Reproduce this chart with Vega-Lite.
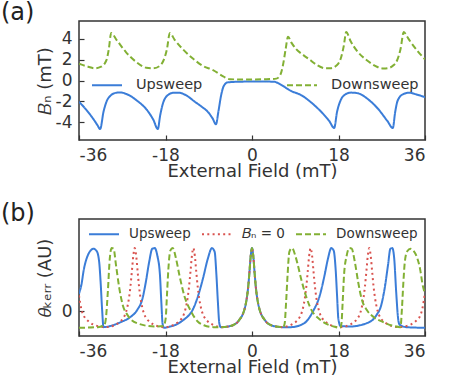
{
"$schema": "https://vega.github.io/schema/vega-lite/v6.json",
"padding": {"left": 0, "top": 0, "right": 5, "bottom": 0},
"config": {
 "font": "DejaVu Sans",
 "view": {"stroke": "#333333", "strokeWidth": 1.5},
 "axis": {"grid": false, "domain": false, "tickSize": -5, "tickColor": "#333333", "tickWidth": 1.2, "labelFont": "DejaVu Sans", "labelFontSize": 17, "labelColor": "#333333", "titleFont": "DejaVu Sans", "titleFontSize": 18, "titleFontWeight": "normal", "titleColor": "#333333", "labelPadding": 12},
 "legend": {"labelFont": "DejaVu Sans", "labelColor": "#333333", "padding": 0, "symbolStrokeWidth": 2, "symbolSize": 900, "symbolType": "stroke", "title": null},
 "title": {"font": "DejaVu Sans", "fontWeight": "normal", "color": "#222222", "fontSize": 24, "anchor": "start", "frame": "group", "baseline": "alphabetic"}
},
"spacing": 20,
"datasets": {
"a": [
{"x":-36,"y":-2.03,"s":"Upsweep"},{"x":-34.5,"y":-2.8,"s":"Upsweep"},{"x":-33,"y":-3.7,"s":"Upsweep"},{"x":-32.2,"y":-4.25,"s":"Upsweep"},{"x":-31.6,"y":-4.65,"s":"Upsweep"},{"x":-30.9,"y":-3.0,"s":"Upsweep"},{"x":-30.2,"y":-1.94,"s":"Upsweep"},{"x":-29.5,"y":-1.48,"s":"Upsweep"},{"x":-28.2,"y":-1.17,"s":"Upsweep"},{"x":-27.4,"y":-1.14,"s":"Upsweep"},{"x":-26.0,"y":-1.32,"s":"Upsweep"},{"x":-23.9,"y":-1.94,"s":"Upsweep"},{"x":-21.8,"y":-2.86,"s":"Upsweep"},{"x":-20.5,"y":-3.79,"s":"Upsweep"},{"x":-19.6,"y":-4.65,"s":"Upsweep"},{"x":-19.1,"y":-3.32,"s":"Upsweep"},{"x":-18.5,"y":-2.15,"s":"Upsweep"},{"x":-17.7,"y":-1.48,"s":"Upsweep"},{"x":-16.3,"y":-1.17,"s":"Upsweep"},{"x":-15.3,"y":-1.17,"s":"Upsweep"},{"x":-13.5,"y":-1.48,"s":"Upsweep"},{"x":-12.0,"y":-2.0,"s":"Upsweep"},{"x":-10.5,"y":-2.5,"s":"Upsweep"},{"x":-9.2,"y":-3.0,"s":"Upsweep"},{"x":-8.2,"y":-3.63,"s":"Upsweep"},{"x":-7.5,"y":-4.2,"s":"Upsweep"},{"x":-7.0,"y":-3.0,"s":"Upsweep"},{"x":-6.45,"y":-1.48,"s":"Upsweep"},{"x":-5.9,"y":-0.55,"s":"Upsweep"},{"x":-5.06,"y":-0.18,"s":"Upsweep"},{"x":-3.0,"y":-0.12,"s":"Upsweep"},{"x":0,"y":-0.1,"s":"Upsweep"},{"x":2.3,"y":-0.1,"s":"Upsweep"},{"x":4.6,"y":-0.12,"s":"Upsweep"},{"x":6.0,"y":-0.4,"s":"Upsweep"},{"x":8.1,"y":-1.0,"s":"Upsweep"},{"x":10.2,"y":-1.39,"s":"Upsweep"},{"x":12.3,"y":-2.1,"s":"Upsweep"},{"x":14.4,"y":-3.0,"s":"Upsweep"},{"x":16.1,"y":-3.9,"s":"Upsweep"},{"x":17.1,"y":-4.55,"s":"Upsweep"},{"x":17.7,"y":-3.0,"s":"Upsweep"},{"x":18.4,"y":-1.94,"s":"Upsweep"},{"x":19.2,"y":-1.4,"s":"Upsweep"},{"x":20.6,"y":-1.16,"s":"Upsweep"},{"x":22.0,"y":-1.22,"s":"Upsweep"},{"x":24.1,"y":-1.78,"s":"Upsweep"},{"x":26.2,"y":-2.7,"s":"Upsweep"},{"x":28.2,"y":-3.9,"s":"Upsweep"},{"x":29.3,"y":-4.55,"s":"Upsweep"},{"x":29.8,"y":-3.0,"s":"Upsweep"},{"x":30.3,"y":-1.94,"s":"Upsweep"},{"x":31.4,"y":-1.32,"s":"Upsweep"},{"x":32.7,"y":-1.17,"s":"Upsweep"},{"x":34.1,"y":-1.32,"s":"Upsweep"},{"x":36,"y":-1.6,"s":"Upsweep"},
{"x":36,"y":2.03,"s":"Downsweep"},{"x":34.5,"y":2.8,"s":"Downsweep"},{"x":33,"y":3.7,"s":"Downsweep"},{"x":32.2,"y":4.25,"s":"Downsweep"},{"x":31.6,"y":4.65,"s":"Downsweep"},{"x":30.9,"y":3.0,"s":"Downsweep"},{"x":30.2,"y":1.94,"s":"Downsweep"},{"x":29.5,"y":1.48,"s":"Downsweep"},{"x":28.2,"y":1.17,"s":"Downsweep"},{"x":27.4,"y":1.14,"s":"Downsweep"},{"x":26.0,"y":1.32,"s":"Downsweep"},{"x":23.9,"y":1.94,"s":"Downsweep"},{"x":21.8,"y":2.86,"s":"Downsweep"},{"x":20.5,"y":3.79,"s":"Downsweep"},{"x":19.6,"y":4.65,"s":"Downsweep"},{"x":19.1,"y":3.32,"s":"Downsweep"},{"x":18.5,"y":2.15,"s":"Downsweep"},{"x":17.7,"y":1.48,"s":"Downsweep"},{"x":16.3,"y":1.17,"s":"Downsweep"},{"x":15.3,"y":1.17,"s":"Downsweep"},{"x":13.5,"y":1.48,"s":"Downsweep"},{"x":12.0,"y":2.0,"s":"Downsweep"},{"x":10.5,"y":2.5,"s":"Downsweep"},{"x":9.2,"y":3.0,"s":"Downsweep"},{"x":8.2,"y":3.63,"s":"Downsweep"},{"x":7.5,"y":4.2,"s":"Downsweep"},{"x":7.0,"y":3.0,"s":"Downsweep"},{"x":6.45,"y":1.48,"s":"Downsweep"},{"x":5.9,"y":0.55,"s":"Downsweep"},{"x":5.06,"y":0.18,"s":"Downsweep"},{"x":3.0,"y":0.12,"s":"Downsweep"},{"x":0,"y":0.1,"s":"Downsweep"},{"x":-2.3,"y":0.1,"s":"Downsweep"},{"x":-4.6,"y":0.12,"s":"Downsweep"},{"x":-6.0,"y":0.4,"s":"Downsweep"},{"x":-8.1,"y":1.0,"s":"Downsweep"},{"x":-10.2,"y":1.39,"s":"Downsweep"},{"x":-12.3,"y":2.1,"s":"Downsweep"},{"x":-14.4,"y":3.0,"s":"Downsweep"},{"x":-16.1,"y":3.9,"s":"Downsweep"},{"x":-17.1,"y":4.55,"s":"Downsweep"},{"x":-17.7,"y":3.0,"s":"Downsweep"},{"x":-18.4,"y":1.94,"s":"Downsweep"},{"x":-19.2,"y":1.4,"s":"Downsweep"},{"x":-20.6,"y":1.16,"s":"Downsweep"},{"x":-22.0,"y":1.22,"s":"Downsweep"},{"x":-24.1,"y":1.78,"s":"Downsweep"},{"x":-26.2,"y":2.7,"s":"Downsweep"},{"x":-28.2,"y":3.9,"s":"Downsweep"},{"x":-29.3,"y":4.55,"s":"Downsweep"},{"x":-29.8,"y":3.0,"s":"Downsweep"},{"x":-30.3,"y":1.94,"s":"Downsweep"},{"x":-31.4,"y":1.32,"s":"Downsweep"},{"x":-32.7,"y":1.17,"s":"Downsweep"},{"x":-34.1,"y":1.32,"s":"Downsweep"},{"x":-36,"y":1.6,"s":"Downsweep"}
],
"b": [
{"x":-36,"y":0.28,"s":"Upsweep"},{"x":-35.5,"y":0.42,"s":"Upsweep"},{"x":-35.0,"y":0.66,"s":"Upsweep"},{"x":-34.3,"y":0.86,"s":"Upsweep"},{"x":-33.6,"y":0.96,"s":"Upsweep"},{"x":-33.0,"y":0.99,"s":"Upsweep"},{"x":-32.3,"y":0.95,"s":"Upsweep"},{"x":-31.8,"y":0.78,"s":"Upsweep"},{"x":-31.5,"y":0.46,"s":"Upsweep"},{"x":-31.2,"y":0.04,"s":"Upsweep"},{"x":-30.9,"y":-0.25,"s":"Upsweep"},{"x":-29.4,"y":-0.23,"s":"Upsweep"},{"x":-27.3,"y":-0.17,"s":"Upsweep"},{"x":-25.3,"y":-0.09,"s":"Upsweep"},{"x":-23.9,"y":0.02,"s":"Upsweep"},{"x":-22.8,"y":0.2,"s":"Upsweep"},{"x":-22.1,"y":0.46,"s":"Upsweep"},{"x":-21.4,"y":0.78,"s":"Upsweep"},{"x":-20.75,"y":0.99,"s":"Upsweep"},{"x":-20.25,"y":1.0,"s":"Upsweep"},{"x":-19.7,"y":0.88,"s":"Upsweep"},{"x":-19.15,"y":0.57,"s":"Upsweep"},{"x":-18.87,"y":0.15,"s":"Upsweep"},{"x":-18.6,"y":-0.2,"s":"Upsweep"},{"x":-18.3,"y":-0.26,"s":"Upsweep"},{"x":-17.0,"y":-0.24,"s":"Upsweep"},{"x":-15.5,"y":-0.2,"s":"Upsweep"},{"x":-14.0,"y":-0.12,"s":"Upsweep"},{"x":-13.0,"y":-0.05,"s":"Upsweep"},{"x":-12.6,"y":-0.01,"s":"Upsweep"},{"x":-11.2,"y":0.25,"s":"Upsweep"},{"x":-10.2,"y":0.52,"s":"Upsweep"},{"x":-9.2,"y":0.83,"s":"Upsweep"},{"x":-8.33,"y":1.0,"s":"Upsweep"},{"x":-7.77,"y":0.94,"s":"Upsweep"},{"x":-7.4,"y":0.57,"s":"Upsweep"},{"x":-7.1,"y":0.15,"s":"Upsweep"},{"x":-6.8,"y":-0.19,"s":"Upsweep"},{"x":-6.5,"y":-0.25,"s":"Upsweep"},{"x":-5.0,"y":-0.24,"s":"Upsweep"},{"x":-4.0,"y":-0.22,"s":"Upsweep"},{"x":-3.0,"y":-0.17,"s":"Upsweep"},{"x":-2.5,"y":-0.12,"s":"Upsweep"},{"x":-2.0,"y":-0.06,"s":"Upsweep"},{"x":-1.5,"y":0.05,"s":"Upsweep"},{"x":-1.1,"y":0.2,"s":"Upsweep"},{"x":-0.8,"y":0.38,"s":"Upsweep"},{"x":-0.55,"y":0.6,"s":"Upsweep"},{"x":-0.27,"y":0.87,"s":"Upsweep"},{"x":0,"y":1.0,"s":"Upsweep"},{"x":0.27,"y":0.87,"s":"Upsweep"},{"x":0.55,"y":0.6,"s":"Upsweep"},{"x":0.8,"y":0.38,"s":"Upsweep"},{"x":1.1,"y":0.2,"s":"Upsweep"},{"x":1.5,"y":0.05,"s":"Upsweep"},{"x":2.0,"y":-0.06,"s":"Upsweep"},{"x":2.5,"y":-0.12,"s":"Upsweep"},{"x":3.0,"y":-0.17,"s":"Upsweep"},{"x":4.0,"y":-0.22,"s":"Upsweep"},{"x":5.0,"y":-0.24,"s":"Upsweep"},{"x":6.5,"y":-0.25,"s":"Upsweep"},{"x":8.0,"y":-0.25,"s":"Upsweep"},{"x":10.0,"y":-0.22,"s":"Upsweep"},{"x":11.3,"y":-0.16,"s":"Upsweep"},{"x":12.7,"y":0.0,"s":"Upsweep"},{"x":14.1,"y":0.25,"s":"Upsweep"},{"x":15.1,"y":0.57,"s":"Upsweep"},{"x":15.8,"y":0.83,"s":"Upsweep"},{"x":16.5,"y":1.0,"s":"Upsweep"},{"x":17.0,"y":0.96,"s":"Upsweep"},{"x":17.4,"y":0.67,"s":"Upsweep"},{"x":17.7,"y":0.25,"s":"Upsweep"},{"x":17.96,"y":-0.11,"s":"Upsweep"},{"x":18.4,"y":-0.23,"s":"Upsweep"},{"x":20.3,"y":-0.24,"s":"Upsweep"},{"x":23.8,"y":-0.19,"s":"Upsweep"},{"x":25.9,"y":-0.06,"s":"Upsweep"},{"x":26.9,"y":0.1,"s":"Upsweep"},{"x":27.6,"y":0.36,"s":"Upsweep"},{"x":28.3,"y":0.73,"s":"Upsweep"},{"x":28.8,"y":0.99,"s":"Upsweep"},{"x":29.2,"y":1.0,"s":"Upsweep"},{"x":29.6,"y":0.83,"s":"Upsweep"},{"x":30.0,"y":0.31,"s":"Upsweep"},{"x":30.4,"y":-0.11,"s":"Upsweep"},{"x":30.7,"y":-0.21,"s":"Upsweep"},{"x":32.1,"y":-0.25,"s":"Upsweep"},{"x":36,"y":-0.26,"s":"Upsweep"},
{"x":-36,"y":0.25,"s":"𝐵ₙ = 0"},{"x":-35.5,"y":0.03,"s":"𝐵ₙ = 0"},{"x":-35,"y":-0.07,"s":"𝐵ₙ = 0"},{"x":-34,"y":-0.16,"s":"𝐵ₙ = 0"},{"x":-33,"y":-0.21,"s":"𝐵ₙ = 0"},{"x":-32,"y":-0.235,"s":"𝐵ₙ = 0"},{"x":-30.5,"y":-0.25,"s":"𝐵ₙ = 0"},{"x":-29.4,"y":-0.24,"s":"𝐵ₙ = 0"},{"x":-28.4,"y":-0.21,"s":"𝐵ₙ = 0"},{"x":-27.4,"y":-0.16,"s":"𝐵ₙ = 0"},{"x":-26.9,"y":-0.12,"s":"𝐵ₙ = 0"},{"x":-26.4,"y":-0.05,"s":"𝐵ₙ = 0"},{"x":-26.0,"y":0.05,"s":"𝐵ₙ = 0"},{"x":-25.6,"y":0.21,"s":"𝐵ₙ = 0"},{"x":-25.3,"y":0.39,"s":"𝐵ₙ = 0"},{"x":-25.0,"y":0.63,"s":"𝐵ₙ = 0"},{"x":-24.7,"y":0.88,"s":"𝐵ₙ = 0"},{"x":-24.4,"y":1.0,"s":"𝐵ₙ = 0"},{"x":-24.1,"y":0.88,"s":"𝐵ₙ = 0"},{"x":-23.8,"y":0.63,"s":"𝐵ₙ = 0"},{"x":-23.5,"y":0.39,"s":"𝐵ₙ = 0"},{"x":-23.2,"y":0.21,"s":"𝐵ₙ = 0"},{"x":-22.8,"y":0.05,"s":"𝐵ₙ = 0"},{"x":-22.4,"y":-0.05,"s":"𝐵ₙ = 0"},{"x":-21.9,"y":-0.12,"s":"𝐵ₙ = 0"},{"x":-21.4,"y":-0.16,"s":"𝐵ₙ = 0"},{"x":-20.4,"y":-0.21,"s":"𝐵ₙ = 0"},{"x":-19.4,"y":-0.24,"s":"𝐵ₙ = 0"},{"x":-18.3,"y":-0.25,"s":"𝐵ₙ = 0"},{"x":-17.2,"y":-0.24,"s":"𝐵ₙ = 0"},{"x":-16.2,"y":-0.21,"s":"𝐵ₙ = 0"},{"x":-15.2,"y":-0.16,"s":"𝐵ₙ = 0"},{"x":-14.7,"y":-0.12,"s":"𝐵ₙ = 0"},{"x":-14.2,"y":-0.05,"s":"𝐵ₙ = 0"},{"x":-13.8,"y":0.05,"s":"𝐵ₙ = 0"},{"x":-13.4,"y":0.21,"s":"𝐵ₙ = 0"},{"x":-13.1,"y":0.39,"s":"𝐵ₙ = 0"},{"x":-12.8,"y":0.63,"s":"𝐵ₙ = 0"},{"x":-12.5,"y":0.88,"s":"𝐵ₙ = 0"},{"x":-12.2,"y":1.0,"s":"𝐵ₙ = 0"},{"x":-11.9,"y":0.88,"s":"𝐵ₙ = 0"},{"x":-11.6,"y":0.63,"s":"𝐵ₙ = 0"},{"x":-11.3,"y":0.39,"s":"𝐵ₙ = 0"},{"x":-11.0,"y":0.21,"s":"𝐵ₙ = 0"},{"x":-10.6,"y":0.05,"s":"𝐵ₙ = 0"},{"x":-10.2,"y":-0.05,"s":"𝐵ₙ = 0"},{"x":-9.7,"y":-0.12,"s":"𝐵ₙ = 0"},{"x":-9.2,"y":-0.16,"s":"𝐵ₙ = 0"},{"x":-8.2,"y":-0.21,"s":"𝐵ₙ = 0"},{"x":-7.2,"y":-0.24,"s":"𝐵ₙ = 0"},{"x":-6.1,"y":-0.25,"s":"𝐵ₙ = 0"},{"x":-5.0,"y":-0.24,"s":"𝐵ₙ = 0"},{"x":-4.0,"y":-0.22,"s":"𝐵ₙ = 0"},{"x":-3.0,"y":-0.17,"s":"𝐵ₙ = 0"},{"x":-2.5,"y":-0.12,"s":"𝐵ₙ = 0"},{"x":-2.0,"y":-0.06,"s":"𝐵ₙ = 0"},{"x":-1.5,"y":0.05,"s":"𝐵ₙ = 0"},{"x":-1.1,"y":0.2,"s":"𝐵ₙ = 0"},{"x":-0.8,"y":0.38,"s":"𝐵ₙ = 0"},{"x":-0.55,"y":0.6,"s":"𝐵ₙ = 0"},{"x":-0.27,"y":0.87,"s":"𝐵ₙ = 0"},{"x":0,"y":1.0,"s":"𝐵ₙ = 0"},{"x":0.27,"y":0.87,"s":"𝐵ₙ = 0"},{"x":0.55,"y":0.6,"s":"𝐵ₙ = 0"},{"x":0.8,"y":0.38,"s":"𝐵ₙ = 0"},{"x":1.1,"y":0.2,"s":"𝐵ₙ = 0"},{"x":1.5,"y":0.05,"s":"𝐵ₙ = 0"},{"x":2.0,"y":-0.06,"s":"𝐵ₙ = 0"},{"x":2.5,"y":-0.12,"s":"𝐵ₙ = 0"},{"x":3.0,"y":-0.17,"s":"𝐵ₙ = 0"},{"x":4.0,"y":-0.22,"s":"𝐵ₙ = 0"},{"x":5.0,"y":-0.24,"s":"𝐵ₙ = 0"},{"x":6.1,"y":-0.25,"s":"𝐵ₙ = 0"},{"x":7.2,"y":-0.24,"s":"𝐵ₙ = 0"},{"x":8.2,"y":-0.21,"s":"𝐵ₙ = 0"},{"x":9.2,"y":-0.16,"s":"𝐵ₙ = 0"},{"x":9.7,"y":-0.12,"s":"𝐵ₙ = 0"},{"x":10.2,"y":-0.05,"s":"𝐵ₙ = 0"},{"x":10.6,"y":0.05,"s":"𝐵ₙ = 0"},{"x":11.0,"y":0.21,"s":"𝐵ₙ = 0"},{"x":11.3,"y":0.39,"s":"𝐵ₙ = 0"},{"x":11.6,"y":0.63,"s":"𝐵ₙ = 0"},{"x":11.9,"y":0.88,"s":"𝐵ₙ = 0"},{"x":12.2,"y":1.0,"s":"𝐵ₙ = 0"},{"x":12.5,"y":0.88,"s":"𝐵ₙ = 0"},{"x":12.8,"y":0.63,"s":"𝐵ₙ = 0"},{"x":13.1,"y":0.39,"s":"𝐵ₙ = 0"},{"x":13.4,"y":0.21,"s":"𝐵ₙ = 0"},{"x":13.8,"y":0.05,"s":"𝐵ₙ = 0"},{"x":14.2,"y":-0.05,"s":"𝐵ₙ = 0"},{"x":14.7,"y":-0.12,"s":"𝐵ₙ = 0"},{"x":15.2,"y":-0.16,"s":"𝐵ₙ = 0"},{"x":16.2,"y":-0.21,"s":"𝐵ₙ = 0"},{"x":17.2,"y":-0.24,"s":"𝐵ₙ = 0"},{"x":18.3,"y":-0.25,"s":"𝐵ₙ = 0"},{"x":19.4,"y":-0.24,"s":"𝐵ₙ = 0"},{"x":20.4,"y":-0.21,"s":"𝐵ₙ = 0"},{"x":21.4,"y":-0.16,"s":"𝐵ₙ = 0"},{"x":21.9,"y":-0.12,"s":"𝐵ₙ = 0"},{"x":22.4,"y":-0.05,"s":"𝐵ₙ = 0"},{"x":22.8,"y":0.05,"s":"𝐵ₙ = 0"},{"x":23.2,"y":0.21,"s":"𝐵ₙ = 0"},{"x":23.5,"y":0.39,"s":"𝐵ₙ = 0"},{"x":23.8,"y":0.63,"s":"𝐵ₙ = 0"},{"x":24.1,"y":0.88,"s":"𝐵ₙ = 0"},{"x":24.4,"y":1.0,"s":"𝐵ₙ = 0"},{"x":24.7,"y":0.88,"s":"𝐵ₙ = 0"},{"x":25.0,"y":0.63,"s":"𝐵ₙ = 0"},{"x":25.3,"y":0.39,"s":"𝐵ₙ = 0"},{"x":25.6,"y":0.21,"s":"𝐵ₙ = 0"},{"x":26.0,"y":0.05,"s":"𝐵ₙ = 0"},{"x":26.4,"y":-0.05,"s":"𝐵ₙ = 0"},{"x":26.9,"y":-0.12,"s":"𝐵ₙ = 0"},{"x":27.4,"y":-0.16,"s":"𝐵ₙ = 0"},{"x":28.4,"y":-0.21,"s":"𝐵ₙ = 0"},{"x":29.4,"y":-0.24,"s":"𝐵ₙ = 0"},{"x":30.5,"y":-0.25,"s":"𝐵ₙ = 0"},{"x":32,"y":-0.235,"s":"𝐵ₙ = 0"},{"x":33,"y":-0.21,"s":"𝐵ₙ = 0"},{"x":34,"y":-0.16,"s":"𝐵ₙ = 0"},{"x":35,"y":-0.07,"s":"𝐵ₙ = 0"},{"x":35.5,"y":0.06,"s":"𝐵ₙ = 0"},{"x":36,"y":0.3,"s":"𝐵ₙ = 0"},
{"x":36,"y":0.28,"s":"Downsweep"},{"x":35.5,"y":0.42,"s":"Downsweep"},{"x":35.0,"y":0.66,"s":"Downsweep"},{"x":34.3,"y":0.86,"s":"Downsweep"},{"x":33.6,"y":0.96,"s":"Downsweep"},{"x":33.0,"y":0.99,"s":"Downsweep"},{"x":32.3,"y":0.95,"s":"Downsweep"},{"x":31.8,"y":0.78,"s":"Downsweep"},{"x":31.5,"y":0.46,"s":"Downsweep"},{"x":31.2,"y":0.04,"s":"Downsweep"},{"x":30.9,"y":-0.25,"s":"Downsweep"},{"x":29.4,"y":-0.23,"s":"Downsweep"},{"x":27.3,"y":-0.17,"s":"Downsweep"},{"x":25.3,"y":-0.09,"s":"Downsweep"},{"x":23.9,"y":0.02,"s":"Downsweep"},{"x":22.8,"y":0.2,"s":"Downsweep"},{"x":22.1,"y":0.46,"s":"Downsweep"},{"x":21.4,"y":0.78,"s":"Downsweep"},{"x":20.75,"y":0.99,"s":"Downsweep"},{"x":20.25,"y":1.0,"s":"Downsweep"},{"x":19.7,"y":0.88,"s":"Downsweep"},{"x":19.15,"y":0.57,"s":"Downsweep"},{"x":18.87,"y":0.15,"s":"Downsweep"},{"x":18.6,"y":-0.2,"s":"Downsweep"},{"x":18.3,"y":-0.26,"s":"Downsweep"},{"x":17.0,"y":-0.24,"s":"Downsweep"},{"x":15.5,"y":-0.2,"s":"Downsweep"},{"x":14.0,"y":-0.12,"s":"Downsweep"},{"x":13.0,"y":-0.05,"s":"Downsweep"},{"x":12.6,"y":-0.01,"s":"Downsweep"},{"x":11.2,"y":0.25,"s":"Downsweep"},{"x":10.2,"y":0.52,"s":"Downsweep"},{"x":9.2,"y":0.83,"s":"Downsweep"},{"x":8.33,"y":1.0,"s":"Downsweep"},{"x":7.77,"y":0.94,"s":"Downsweep"},{"x":7.4,"y":0.57,"s":"Downsweep"},{"x":7.1,"y":0.15,"s":"Downsweep"},{"x":6.8,"y":-0.19,"s":"Downsweep"},{"x":6.5,"y":-0.25,"s":"Downsweep"},{"x":5.0,"y":-0.24,"s":"Downsweep"},{"x":4.0,"y":-0.22,"s":"Downsweep"},{"x":3.0,"y":-0.17,"s":"Downsweep"},{"x":2.5,"y":-0.12,"s":"Downsweep"},{"x":2.0,"y":-0.06,"s":"Downsweep"},{"x":1.5,"y":0.05,"s":"Downsweep"},{"x":1.1,"y":0.2,"s":"Downsweep"},{"x":0.8,"y":0.38,"s":"Downsweep"},{"x":0.55,"y":0.6,"s":"Downsweep"},{"x":0.27,"y":0.87,"s":"Downsweep"},{"x":0,"y":1.0,"s":"Downsweep"},{"x":-0.27,"y":0.87,"s":"Downsweep"},{"x":-0.55,"y":0.6,"s":"Downsweep"},{"x":-0.8,"y":0.38,"s":"Downsweep"},{"x":-1.1,"y":0.2,"s":"Downsweep"},{"x":-1.5,"y":0.05,"s":"Downsweep"},{"x":-2.0,"y":-0.06,"s":"Downsweep"},{"x":-2.5,"y":-0.12,"s":"Downsweep"},{"x":-3.0,"y":-0.17,"s":"Downsweep"},{"x":-4.0,"y":-0.22,"s":"Downsweep"},{"x":-5.0,"y":-0.24,"s":"Downsweep"},{"x":-6.5,"y":-0.25,"s":"Downsweep"},{"x":-8.0,"y":-0.25,"s":"Downsweep"},{"x":-10.0,"y":-0.22,"s":"Downsweep"},{"x":-11.3,"y":-0.16,"s":"Downsweep"},{"x":-12.7,"y":0.0,"s":"Downsweep"},{"x":-14.1,"y":0.25,"s":"Downsweep"},{"x":-15.1,"y":0.57,"s":"Downsweep"},{"x":-15.8,"y":0.83,"s":"Downsweep"},{"x":-16.5,"y":1.0,"s":"Downsweep"},{"x":-17.0,"y":0.96,"s":"Downsweep"},{"x":-17.4,"y":0.67,"s":"Downsweep"},{"x":-17.7,"y":0.25,"s":"Downsweep"},{"x":-17.96,"y":-0.11,"s":"Downsweep"},{"x":-18.4,"y":-0.23,"s":"Downsweep"},{"x":-20.3,"y":-0.24,"s":"Downsweep"},{"x":-23.8,"y":-0.19,"s":"Downsweep"},{"x":-25.9,"y":-0.06,"s":"Downsweep"},{"x":-26.9,"y":0.1,"s":"Downsweep"},{"x":-27.6,"y":0.36,"s":"Downsweep"},{"x":-28.3,"y":0.73,"s":"Downsweep"},{"x":-28.8,"y":0.99,"s":"Downsweep"},{"x":-29.2,"y":1.0,"s":"Downsweep"},{"x":-29.6,"y":0.83,"s":"Downsweep"},{"x":-30.0,"y":0.31,"s":"Downsweep"},{"x":-30.4,"y":-0.11,"s":"Downsweep"},{"x":-30.7,"y":-0.21,"s":"Downsweep"},{"x":-32.1,"y":-0.25,"s":"Downsweep"},{"x":-36,"y":-0.26,"s":"Downsweep"}
]
},
"vconcat": [
{
 "width": 346, "height": 119,
 "title": {"text": "(a)", "dx": -78, "offset": -4},
 "data": {"name": "a"},
 "mark": {"type": "line", "strokeWidth": 2, "interpolate": "monotone", "clip": true},
 "encoding": {
  "x": {"field": "x", "type": "quantitative", "scale": {"domain": [-36, 36], "nice": false, "zero": false}, "axis": {"values": [-36, -18, 0, 18, 36], "labelExpr": "'' + datum.value", "title": "External Field (mT)", "titlePadding": -1}},
  "y": {"field": "y", "type": "quantitative", "scale": {"domain": [-5.7, 5.7], "nice": false}, "axis": {"values": [-4, -2, 0, 2, 4], "labelExpr": "'' + datum.value", "title": "𝐵ₙ (mT)", "titleX": -34, "titleBaseline": "middle"}},
  "color": {"field": "s", "type": "nominal", "scale": {"domain": ["Upsweep", "Downsweep"], "range": ["#3b7dd8", "#82b034"]},
   "legend": {"orient": "none", "legendX": 12, "legendY": 48, "direction": "horizontal", "columns": 2, "columnPadding": 80, "labelFontSize": 14.5, "labelOffset": 13}},
  "strokeDash": {"field": "s", "type": "nominal", "scale": {"domain": ["Upsweep", "Downsweep"], "range": [[1, 0], [6, 3]]},
   "legend": {"orient": "none", "legendX": 12, "legendY": 48, "direction": "horizontal", "columns": 2, "columnPadding": 80, "labelFontSize": 14.5, "labelOffset": 13}}
 }
},
{
 "width": 346, "height": 117,
 "title": {"text": "(b)", "dx": -78, "offset": -8},
 "data": {"name": "b"},
 "mark": {"type": "line", "strokeWidth": 2, "interpolate": "monotone", "clip": true},
 "encoding": {
  "x": {"field": "x", "type": "quantitative", "scale": {"domain": [-36, 36], "nice": false, "zero": false}, "axis": {"values": [-36, -18, 0, 18, 36], "labelExpr": "'' + datum.value", "title": "External Field (mT)", "titlePadding": -1}},
  "y": {"field": "y", "type": "quantitative", "scale": {"domain": [-0.39, 1.46], "nice": false}, "axis": {"values": [0], "labelExpr": "'' + datum.value", "title": "𝜃ₖₑᵣᵣ (AU)", "titleX": -34, "titleBaseline": "middle"}},
  "color": {"field": "s", "type": "nominal", "scale": {"domain": ["Upsweep", "𝐵ₙ = 0", "Downsweep"], "range": ["#3b7dd8", "#d9534f", "#82b034"]},
   "legend": {"orient": "none", "legendX": 9, "legendY": -1, "direction": "horizontal", "columns": 3, "columnPadding": 7, "labelFontSize": 13.5, "labelOffset": 9}},
  "strokeDash": {"field": "s", "type": "nominal", "scale": {"domain": ["Upsweep", "𝐵ₙ = 0", "Downsweep"], "range": [[1, 0], [2, 3.3], [6, 3]]},
   "legend": {"orient": "none", "legendX": 9, "legendY": -1, "direction": "horizontal", "columns": 3, "columnPadding": 7, "labelFontSize": 13.5, "labelOffset": 9}}
 }
}
],
"resolve": {"scale": {"color": "independent", "strokeDash": "independent"}, "legend": {"color": "independent", "strokeDash": "independent"}}
}
